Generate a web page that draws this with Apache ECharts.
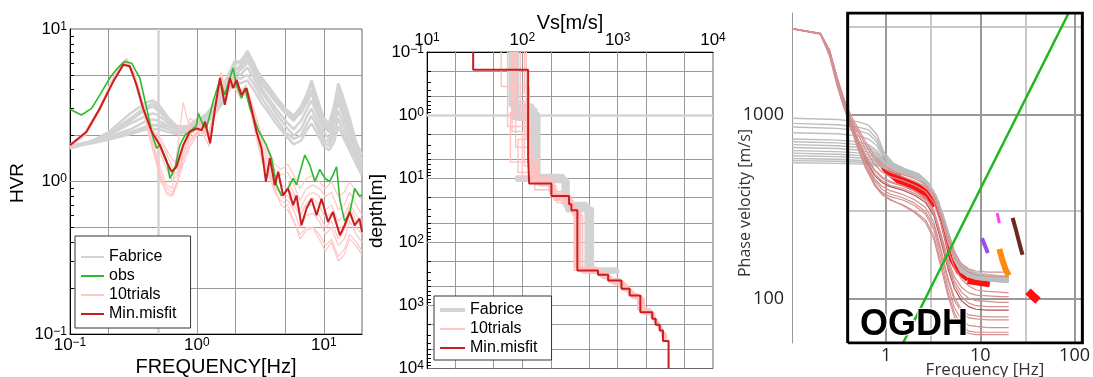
<!DOCTYPE html>
<html>
<head>
<meta charset="utf-8">
<script src="https://cdn.jsdelivr.net/npm/echarts@6/dist/echarts.min.js"></script>
<style>
html, body { margin: 0; padding: 0; background: #fff; }
#chart { width: 1093px; height: 377px; }
</style>
</head>
<body>
<div id="chart"></div>
<script>
// ---------- panel 1 : H/V ratio ----------
const hvrFreq = [0.1, 0.15, 0.2, 0.3, 0.4, 0.45, 0.5, 0.6, 0.7, 0.85, 1.0, 1.2, 1.4, 1.6, 1.8, 2.0, 2.2, 2.5,
    2.8, 3.2, 3.6, 4.2, 5.0, 5.8, 6.6, 7.4, 8.0, 8.8, 10, 11, 12, 13, 14, 16, 18, 20];
const fabriceHvr = [
    [1.65,1.85,2.1,2.8,3.3,3.4,3.2,2.6,2.3,2.3,2.4,2.7,3.2,3.9,4.8,5.8,6.2,6.8,5.5,4.4,3.9,3.3,2.8,2.5,2.9,3.6,4.4,3.4,2.4,2.2,2.8,3.8,3.2,2.3,1.6,1.3],
    [1.65,1.8,2.0,2.5,3.0,3.1,2.9,2.5,2.3,2.3,2.5,2.8,3.3,4.2,5.2,6.2,6.0,7.2,6.0,4.6,4.0,3.4,2.9,2.6,3.0,3.5,4.0,3.2,2.5,2.3,3.0,4.2,3.5,2.4,1.7,1.4],
    [1.7,1.85,2.0,2.4,2.7,2.8,2.7,2.4,2.2,2.2,2.4,2.7,3.1,3.8,4.6,5.5,5.5,6.2,5.2,4.1,3.6,3.0,2.5,2.2,2.5,3.0,3.4,2.8,2.1,1.9,2.4,3.3,2.8,2.0,1.5,1.25],
    [1.7,1.8,1.95,2.2,2.5,2.55,2.5,2.3,2.2,2.15,2.3,2.6,3.0,3.6,4.4,5.2,5.0,5.6,4.8,3.9,3.4,2.8,2.3,2.0,2.2,2.7,3.0,2.5,1.9,1.8,2.2,2.9,2.5,1.8,1.4,1.2],
    [1.7,1.8,1.9,2.1,2.3,2.35,2.3,2.2,2.1,2.1,2.25,2.5,2.9,3.4,4.2,4.9,4.7,5.0,4.4,3.6,3.1,2.6,2.1,1.9,2.0,2.4,2.7,2.3,1.8,1.7,2.0,2.6,2.2,1.7,1.35,1.15],
    [1.7,1.78,1.88,2.05,2.2,2.2,2.2,2.1,2.05,2.1,2.2,2.45,2.8,3.3,4.0,4.6,4.4,4.6,4.0,3.3,2.9,2.4,2.0,1.75,1.85,2.2,2.4,2.1,1.7,1.6,1.8,2.3,2.0,1.6,1.3,1.1],
    [1.72,1.8,1.9,2.1,2.3,2.35,2.35,2.3,2.2,2.25,2.4,2.7,3.0,3.5,4.3,5.0,5.4,6.0,5.6,4.8,4.3,3.6,3.0,2.7,3.1,3.8,4.6,3.6,2.6,2.4,3.1,4.4,3.7,2.6,1.8,1.5],
    [1.68,1.82,2.05,2.6,3.1,3.25,3.05,2.5,2.2,2.2,2.3,2.55,2.9,3.5,4.4,5.3,5.8,6.5,5.8,4.9,4.2,3.5,2.9,2.6,2.8,3.3,3.8,3.0,2.3,2.1,2.6,3.6,3.0,2.2,1.6,1.35]
];
const trialFreq = [0.1, 0.13, 0.17, 0.21, 0.25, 0.28, 0.32, 0.37, 0.42, 0.47, 0.52, 0.58, 0.64, 0.7, 0.78,
    0.88, 1.0, 1.1, 1.25, 1.4, 1.55, 1.7, 1.85, 2.0, 2.2, 2.45, 2.7, 3.0, 3.3, 3.7, 4.1, 4.6, 5.2, 5.8, 6.5,
    7.3, 8.2, 9.2, 10.3, 11.5, 13, 14.5, 16, 18, 20];
const trialHvr = [
    [1.72,2.0,2.9,4.4,5.9,6.4,5.0,3.1,2.0,1.4,1.0,0.85,0.82,1.0,1.5,1.9,2.1,2.2,1.9,3.2,4.9,3.5,4.5,4.5,3.6,3.9,2.8,1.9,1.4,1.2,0.95,0.8,0.75,0.65,0.5,0.6,0.62,0.55,0.45,0.5,0.38,0.42,0.55,0.45,0.4],
    [1.75,2.05,3.0,4.4,5.7,6.0,4.9,3.3,2.5,2.1,1.9,1.6,1.4,1.3,1.6,2.0,2.3,2.3,2.0,3.1,4.5,3.6,4.9,4.4,3.9,4.3,3.2,2.3,1.7,1.4,1.1,1.0,1.0,0.85,0.65,0.8,0.85,0.8,0.65,0.7,0.55,0.6,0.72,0.6,0.55],
    [1.7,2.0,2.85,4.2,5.6,6.2,5.2,3.4,2.2,1.6,1.2,0.95,0.9,1.6,3.3,2.2,2.0,2.3,2.1,3.3,5.0,3.8,4.6,4.8,4.0,4.0,2.9,2.0,1.5,1.1,0.85,0.75,0.7,0.55,0.45,0.5,0.5,0.45,0.38,0.42,0.32,0.36,0.45,0.4,0.35],
    [1.73,2.1,3.0,4.5,5.8,6.1,4.7,3.0,2.3,1.9,1.6,1.3,1.1,1.15,1.6,2.4,2.6,2.1,1.7,2.9,4.6,3.4,4.4,4.1,3.5,3.8,3.1,2.2,1.8,1.5,1.2,1.1,1.15,0.95,0.75,0.9,0.95,0.9,0.8,0.85,0.65,0.7,0.85,0.7,0.6],
    [1.7,2.0,2.95,4.3,5.6,5.9,5.0,3.2,2.1,1.5,1.1,0.9,0.85,1.0,1.3,1.7,2.0,2.1,2.0,3.4,5.2,3.9,5.0,4.6,3.7,3.7,2.7,1.8,1.3,1.1,0.9,0.85,0.8,0.7,0.6,0.7,0.7,0.6,0.5,0.55,0.42,0.48,0.6,0.5,0.45],
    [1.74,2.05,3.0,4.4,5.7,6.0,4.8,3.1,2.4,2.0,1.8,1.5,1.25,1.2,1.7,2.6,2.4,2.2,1.9,2.8,4.4,3.7,4.7,4.6,3.9,4.2,3.3,2.5,1.9,1.6,1.3,1.2,1.3,1.1,0.9,1.05,1.1,1.0,0.9,1.0,0.8,0.85,1.0,0.85,0.75],
    [1.72,2.0,2.9,4.3,5.8,6.3,5.1,3.2,2.0,1.45,1.05,0.82,0.8,0.95,1.4,1.8,2.1,2.25,2.0,3.0,4.8,3.5,4.8,4.4,3.6,4.0,3.0,2.0,1.5,1.2,0.9,0.7,0.65,0.55,0.42,0.48,0.5,0.42,0.35,0.4,0.3,0.33,0.42,0.38,0.33],
    [1.73,2.05,2.95,4.35,5.75,6.1,4.9,3.1,2.3,1.8,1.5,1.2,1.0,1.1,1.5,2.0,2.4,2.3,2.1,3.2,4.7,3.6,4.6,4.5,3.8,4.1,3.0,2.1,1.6,1.3,1.05,0.95,0.9,0.8,0.6,0.72,0.78,0.7,0.58,0.62,0.48,0.52,0.68,0.55,0.5]
];
const obsFreq = [0.1,0.123,0.148,0.172,0.206,0.235,0.271,0.306,0.355,0.402,0.453,0.481,0.511,0.577,0.613,
    0.671,0.735,0.804,0.908,0.994,1.025,1.12,1.19,1.34,1.52,1.66,1.82,1.93,2.05,2.25,2.39,2.62,3.04,3.53,
    3.87,4.24,4.63,5.14,5.73,6.09,7.08,7.77,8.5,9.3,10.2,11.1,11.8,12.6,13.4,14.6,16.0,17.5,19.2,20];
const obsHvr = [2.98,2.73,3.02,3.70,4.77,5.5,6.13,5.97,4.77,3.02,1.92,1.65,1.73,1.38,1.05,1.22,1.73,2.01,
    2.17,2.34,2.80,2.34,2.23,3.34,4.64,3.70,4.77,5.54,4.31,3.51,4.09,3.02,2.18,1.73,1.42,0.95,0.81,0.88,
    1.05,0.95,1.49,1.28,1.0,1.2,1.05,1.0,1.1,1.25,0.75,0.55,0.62,0.9,0.8,0.82];
const bestFreq = [0.1,0.135,0.172,0.219,0.263,0.296,0.334,0.377,0.44,0.511,0.577,0.632,0.69,0.78,0.88,
    0.994,1.09,1.16,1.27,1.39,1.52,1.66,1.82,1.93,2.05,2.25,2.46,2.69,2.95,3.23,3.5,3.76,4.11,4.37,4.78,
    5.23,5.73,6.09,6.67,7.31,8.0,8.76,9.6,10.8,11.8,13.4,14.6,16.0,17.5,19.1,20];
const bestHvr = [1.73,2.12,3.02,4.52,5.83,5.69,4.31,3.02,2.12,1.73,1.35,1.16,1.25,1.73,2.12,2.23,2.17,
    2.47,1.78,3.02,4.77,3.18,4.77,4.09,4.64,3.70,4.09,3.02,2.12,1.65,1.0,1.42,0.946,1.16,0.81,0.90,0.70,
    0.81,0.516,0.665,0.77,0.60,0.77,0.543,0.632,0.444,0.516,0.632,0.516,0.571,0.467];
const hvrGridF = [0.2, 1, 2, 5, 10];
const hvrGridH = [0.2, 0.5, 1, 2, 5];
const hvrMarkF = [0.5];
const hvrMinorH = [0.2, 0.3, 0.4, 0.5, 0.6, 0.7, 0.8, 0.9, 2, 3, 4, 5, 6, 7, 8, 9];

// ---------- panel 2 : Vs profiles (layer tops + final bottom, layer velocities) ----------
const fabriceDepth = [
    [0.1, 0.7, 9, 25, 270, 270],
    [0.1, 0.8, 10, 28, 280, 280],
    [0.1, 0.95, 11, 30, 290, 290],
    [0.1, 1.1, 10.5, 32, 300, 300],
    [0.1, 1.0, 9.5, 10.5, 28, 285, 285]
];
const fabriceVs = [
    [75, 128, 270, 470, 980],
    [82, 138, 285, 500, 1020],
    [88, 148, 300, 540, 1050],
    [80, 142, 295, 520, 1000],
    [85, 140, 87, 290, 510, 1000]
];
const trialDepth = [
    [0.1, 1.5, 9.5, 19, 30, 270, 330, 420, 560, 720, 1250, 1700, 2100, 2700, 3600],
    [0.1, 0.9, 5.5, 11, 17, 27, 250, 300, 380, 520, 680, 1200, 1550, 1900, 2400, 3300],
    [0.1, 2.4, 8, 13, 21, 35, 300, 360, 450, 600, 760, 1350, 1800, 2300, 2900, 3900],
    [0.1, 0.6, 6.3, 12.5, 20, 29, 265, 320, 400, 530, 700, 1220, 1600, 2000, 2500, 3500],
    [0.1, 0.35, 4, 10, 16, 24, 280, 340, 430, 580, 740, 1300, 1650, 2050, 2600, 3700],
    [0.1, 1.2, 7, 11.5, 22, 38, 310, 380, 470, 620, 800, 1400, 1850, 2200, 2800, 3800],
    [0.1, 1.8, 10, 15, 24, 33, 290, 350, 440, 600, 780, 1330, 1700, 2150, 2750, 3400],
    [0.1, 0.45, 3.2, 12, 18, 26, 255, 310, 390, 500, 660, 1150, 1500, 1850, 2300, 3200]
];
const trialVs = [
    [70, 125, 215, 320, 400, 640, 820, 1150, 1400, 1800, 2350, 2600, 2850, 3100],
    [95, 75, 140, 195, 300, 360, 590, 760, 1050, 1300, 1650, 2250, 2450, 2700, 2950],
    [110, 90, 150, 225, 330, 410, 660, 860, 1200, 1450, 1850, 2400, 2700, 2950, 3250],
    [82, 105, 135, 205, 315, 370, 610, 780, 1080, 1320, 1700, 2280, 2480, 2750, 3000],
    [60, 118, 145, 190, 295, 350, 630, 800, 1120, 1380, 1760, 2330, 2550, 2800, 3050],
    [88, 120, 145, 215, 340, 430, 700, 900, 1250, 1500, 1900, 2450, 2650, 2900, 3200],
    [78, 100, 135, 230, 345, 395, 650, 840, 1180, 1420, 1800, 2380, 2600, 2870, 3150],
    [105, 85, 128, 200, 305, 355, 600, 770, 1060, 1290, 1620, 2200, 2420, 2680, 2920]
];
const bestDepth = [0.1, 0.19, 4.7, 12, 18.8, 25.5, 31.6, 284, 331, 407, 550, 705, 1290, 1630, 2040, 2500, 3670, 10000];
const bestVs = [30.5, 115, 118, 202, 309, 327, 378, 622, 795, 1096, 1337, 1730, 2307, 2500, 2760, 2985, 3420];
const vsGridX = [20, 50, 100, 200, 500, 1000, 2000, 5000];
const depthGridY = [0.2, 0.5, 2, 5, 10, 20, 50, 100, 200, 500, 1000, 2000, 5000];
const depthMarkY = [1];
const depthMinorY = [0.2, 0.3, 0.4, 0.5, 0.6, 0.7, 0.8, 0.9, 2, 3, 4, 5, 6, 7, 8, 9, 20, 30, 40, 50, 60, 70, 80, 90,
    200, 300, 400, 500, 600, 700, 800, 900, 2000, 3000, 4000, 5000, 6000, 7000, 8000, 9000];

// ---------- panel 3 : dispersion ----------
const dispFreq = [0.1, 0.3, 0.5, 0.65, 0.8, 0.95, 1.2, 1.6, 2.2, 2.8, 3.4, 4.0, 4.6, 5.3, 6.2, 7.5, 9, 12, 16, 20];
const fabriceDisp = [
    [960,945,920,880,780,625,545,510,480,430,365,290,230,182,155,145,139,136,134,133],
    [900,885,860,830,740,605,540,506,477,427,362,287,227,180,154,144,138,135,133,132],
    [860,845,825,790,710,595,535,502,474,424,359,284,224,178,152,143,137,134,132,131],
    [800,790,770,740,680,580,530,498,471,421,356,281,221,176,151,142,136,133,131,130],
    [740,730,715,690,640,565,525,494,468,418,353,278,218,174,150,141,135,132,130,129],
    [715,705,690,670,620,560,520,490,465,415,350,275,215,172,148,140,134,131,129,128],
    [690,680,668,650,605,555,515,487,462,413,348,273,213,170,147,139,133,130,128,127],
    [665,657,645,628,590,550,511,484,460,411,346,271,211,169,146,138,132,129,127,126],
    [640,632,622,608,578,545,507,481,458,409,344,269,209,168,145,137,131,128,126,126],
    [620,612,603,590,565,538,503,478,456,407,342,267,207,167,144,136,130,128,126,125],
    [600,594,586,575,555,532,500,476,454,405,340,265,205,166,143,135,130,127,125,125],
    [580,575,568,560,545,526,497,474,452,403,338,263,203,165,142,134,129,127,125,124],
    [565,560,555,548,538,522,494,472,450,401,336,261,201,164,141,133,129,126,124,124],
    [550,546,542,538,530,518,491,470,448,399,334,259,199,163,140,132,128,126,124,123]
];
const trialDispFreq = [0.1, 0.2, 0.25, 0.3, 0.35, 0.42, 0.5, 0.6, 0.75, 0.9, 1.1, 1.5, 2.0, 2.6, 3.2, 3.8,
    4.5, 5.3, 6.3, 7.5, 9, 12, 16, 20];
const trialDisp = [
    [2950,2780,2250,1600,1250,1000,850,720,600,540,505,475,450,420,370,295,225,178,156,146,142,140,140,140],
    [2940,2760,2150,1500,1180,960,820,690,575,520,490,462,438,408,355,280,210,168,150,140,135,133,133,132],
    [2950,2770,2200,1550,1200,950,790,650,540,490,462,440,415,385,335,258,188,148,128,118,112,110,109,108],
    [2935,2750,2100,1450,1120,880,730,600,500,455,430,410,385,355,302,228,166,132,116,108,105,104,103,103],
    [2950,2775,2180,1520,1160,900,740,610,505,462,436,414,388,358,305,225,160,125,109,101,98,97,96,96],
    [2940,2765,2230,1580,1220,920,720,575,470,430,408,390,366,336,285,208,148,114,98,91,88,87,87,87],
    [2950,2780,2260,1620,1260,950,730,560,450,410,388,370,346,315,262,188,132,102,88,82,81,80,80,80],
    [2935,2755,2120,1470,1140,850,660,520,420,380,360,345,322,290,240,170,118,90,77,72,71,70,70,70],
    [2950,2770,2170,1510,1170,870,670,520,415,370,345,325,300,270,222,158,110,84,72,67,66,66,66,66],
    [2945,2765,2210,1560,1210,900,690,535,425,375,348,322,295,262,212,150,105,80,69,65,64,64,64,64],
    [2950,2760,2140,1490,1150,860,680,540,440,395,372,355,332,300,250,182,128,98,85,79,78,77,77,77],
    [2945,2775,2240,1600,1240,930,740,590,480,440,415,398,375,345,295,218,155,120,103,95,92,91,91,91]
];
const pickBandF = [0.86, 1.0, 1.4, 2.16, 3.0, 3.4];
const pickBandV = [590, 515, 443, 400, 354, 324];
const pickTailF = [3.4, 3.8, 4.3, 4.9, 5.8, 7.3];
const pickTailV = [324, 280, 215, 163, 140, 127];
const pickBlobF = [7.3, 9, 11, 12.6];
const pickBlobV = [126, 124, 122, 121];
const pickHighF = [32, 36, 41];
const pickHighV = [110, 104, 98];
const purpleF = [10.4, 11.2, 12];
const purpleV = [214, 195, 178];
const magentaF = [15.1, 15.5, 15.9];
const magentaV = [293, 275, 258];
const orangeF = [15.9, 17, 18.5, 20];
const orangeV = [187, 165, 145, 134];
const brownF = [22, 24, 26, 28];
const brownV = [276, 235, 200, 174];
const lambdaF = [1.51, 86.5];
const lambdaV = [57.7, 3580];
const boxF = [0.39, 121];
const boxV = [57.7, 3580];
const dispDarkF = [1, 10, 100];
const dispLightF = [3, 30];
const dispDarkV = [100, 1000];
const dispLightV = [300, 3000];

// ---------- helpers ----------
const SANS = 'Liberation Sans';
const THIN = 'Open Sans';

function pairs(xs, ys) { return xs.map((x, i) => [x, ys[i]]); }

function staircase(depths, vs) {
    const pts = [];
    vs.forEach((v, i) => { pts.push([v, depths[i]]); pts.push([v, depths[i + 1]]); });
    return pts;
}

function curve(idx, name, data, color, width) {
    return {
        type: 'line', name: name, xAxisIndex: idx, yAxisIndex: idx, data: data,
        symbol: 'none', silent: true, z: 2,
        lineStyle: { color: color, width: width }, itemStyle: { color: color }
    };
}

function gridLines(idx, xs, ys, xr, yr, color, width) {
    const data = [];
    xs.forEach(x => data.push({ coords: [[x, yr[0]], [x, yr[1]]] }));
    ys.forEach(y => data.push({ coords: [[xr[0], y], [xr[1], y]] }));
    return {
        type: 'lines', coordinateSystem: 'cartesian2d', xAxisIndex: idx, yAxisIndex: idx,
        silent: true, z: 1, lineStyle: { color: color, width: width, opacity: 1 }, data: data
    };
}

function pow10Label(v) {
    const e = Math.log10(v);
    const r = Math.round(e);
    if (Math.abs(e - r) > 1e-6) return '';
    return '{b|10}{s|' + (r < 0 ? '\u2212' + (-r) : r) + '}';
}

function plainLabel(keep) {
    return v => {
        const hit = keep.find(k => Math.abs(k - v) / k < 1e-6);
        return hit ? String(hit) : '';
    };
}

const powRich = {
    b: { fontSize: 17, fontFamily: SANS, color: '#000' },
    s: { fontSize: 12, fontFamily: SANS, color: '#000', verticalAlign: 'top' }
};

function powAxis(extra) {
    return Object.assign({
        type: 'log', logBase: 10,
        axisLine: { show: true, lineStyle: { color: '#000', width: 1 } },
        axisTick: { show: false },
        splitLine: { show: false },
        axisLabel: { formatter: pow10Label, rich: powRich, margin: 3 }
    }, extra);
}

// ---------- series ----------
const series = [];

series.push(gridLines(0, hvrGridF, hvrGridH, [0.1, 20], [0.1, 10], '#999', 1));
series.push(gridLines(0, hvrMarkF, [], [0.1, 20], [0.1, 10], '#d4d4d4', 2.5));
series.push(gridLines(0, [], hvrMinorH, [0.1, 0.1075], [0.1, 10], '#000', 1));
fabriceHvr.forEach(h => series.push(curve(0, 'Fabrice', pairs(hvrFreq, h), '#d3d3d3', 2.5)));
trialHvr.forEach(h => series.push(curve(0, '10trials', pairs(trialFreq, h), '#ffc6c6', 1.2)));
series.push(curve(0, 'obs', pairs(obsFreq, obsHvr), '#2cbb2c', 1.6));
series.push(curve(0, 'Min.misfit', pairs(bestFreq, bestHvr), '#c81e1e', 2));

series.push(gridLines(1, vsGridX, depthGridY, [10, 10000], [0.1, 10000], '#999', 1));
series.push(gridLines(1, [], depthMarkY, [10, 10000], [0.1, 10000], '#d4d4d4', 2.5));
series.push(gridLines(1, [], depthMinorY, [10, 11], [0.1, 10000], '#000', 1));
fabriceDepth.forEach((d, i) => series.push(curve(1, 'Fabrice', staircase(d, fabriceVs[i]), '#d3d3d3', 4)));
trialDepth.forEach((d, i) => series.push(curve(1, '10trials', staircase(d, trialVs[i]), '#ffc0c0', 1.4)));
series.push(curve(1, 'Min.misfit', staircase(bestDepth, bestVs), '#c81e1e', 2));

series.push(gridLines(2, dispLightF, dispLightV, boxF, boxV, '#c8c8c8', 2));
series.push(gridLines(2, dispDarkF, dispDarkV, boxF, boxV, '#999', 2));
series.push(curve(2, 'pick band', pairs(pickBandF, pickBandV), '#ff1010', 9));
series.push(curve(2, 'pick tail', pairs(pickTailF, pickTailV), '#ff1010', 4));
series.push(curve(2, 'pick blob', pairs(pickBlobF, pickBlobV), '#ff1010', 7));
fabriceDisp.forEach(v => series.push(curve(2, 'fabrice disp', pairs(dispFreq, v), '#bdbdbd', 1.4)));
trialDisp.forEach((v, i) => series.push(curve(2, 'trial disp', pairs(trialDispFreq, v), i === 5 ? '#b25252' : '#d49090', 1.2)));
series.push(curve(2, 'pick high', pairs(pickHighF, pickHighV), '#ff1010', 8));
series.push(curve(2, 'purple', pairs(purpleF, purpleV), '#9a4cf0', 4));
series.push(curve(2, 'magenta', pairs(magentaF, magentaV), '#ff40ff', 3));
series.push(curve(2, 'orange', pairs(orangeF, orangeV), '#ff8a10', 6));
series.push(curve(2, 'brown', pairs(brownF, brownV), '#6a2a1c', 4));
series.push(curve(2, 'lambda', pairs(lambdaF, lambdaV), '#1db81d', 2.5));
series.push({
    type: 'lines', coordinateSystem: 'cartesian2d', xAxisIndex: 2, yAxisIndex: 2, polyline: true,
    silent: true, z: 3, lineStyle: { color: '#000', width: 3, opacity: 1 },
    data: [{ coords: [[boxF[0], boxV[0]], [boxF[1], boxV[0]], [boxF[1], boxV[1]], [boxF[0], boxV[1]], [boxF[0], boxV[0]]] }]
});

// legend icons: keep the line, hide the marker
const legendBase = {
    orient: 'vertical', selectedMode: false, z: 10,
    backgroundColor: '#fff', borderColor: '#333', borderWidth: 1, borderRadius: 0,
    itemHeight: 14, itemGap: 1,
    itemStyle: { opacity: 0 },
    textStyle: { fontFamily: SANS, fontSize: 16, color: '#000', lineHeight: 18 }
};

const option = {
    animation: false,
    backgroundColor: '#fff',
    grid: [
        { left: 70, top: 29, width: 292, height: 305, show: true, borderColor: '#666', borderWidth: 1 },
        { left: 427, top: 52, width: 286, height: 318, show: true, borderColor: '#666', borderWidth: 1 },
        { left: 792, top: 13, width: 295, height: 330 }
    ],
    xAxis: [
        powAxis({ gridIndex: 0, min: 0.1, max: 20 }),
        powAxis({ gridIndex: 1, min: 10, max: 10000, position: 'top' }),
        {
            type: 'log', gridIndex: 2, min: 0.1, max: 121,
            axisLine: { show: false }, axisTick: { show: false }, splitLine: { show: false },
            axisLabel: { formatter: plainLabel([1, 10, 100]), fontFamily: THIN, fontSize: 18, color: '#222', margin: 4 }
        }
    ],
    yAxis: [
        powAxis({ gridIndex: 0, min: 0.1, max: 10 }),
        powAxis({ gridIndex: 1, min: 0.1, max: 10000, inverse: true }),
        {
            type: 'log', gridIndex: 2, min: 57.7, max: 3580,
            axisLine: { show: true, lineStyle: { color: '#999', width: 1 } },
            axisTick: { show: false }, splitLine: { show: false },
            axisLabel: { formatter: plainLabel([100, 1000]), fontFamily: THIN, fontSize: 18, color: '#222', margin: 8 }
        }
    ],
    legend: [
        Object.assign({}, legendBase, {
            left: 75, top: 236, itemWidth: 23, padding: [12, 14, 5, 5],
            data: ['Fabrice', 'obs', '10trials', 'Min.misfit']
        }),
        Object.assign({}, legendBase, {
            left: 434, top: 296, itemWidth: 25, padding: [5, 14, 3, 4],
            data: [{ name: 'Fabrice', lineStyle: { width: 4 } }, '10trials', 'Min.misfit']
        })
    ],
    graphic: [
        { type: 'text', x: 18, y: 183, rotation: Math.PI / 2, z: 20,
          style: { text: 'HVR', fontFamily: SANS, fontSize: 19, fill: '#000', align: 'center', verticalAlign: 'middle' } },
        { type: 'text', x: 216, y: 367, z: 20,
          style: { text: 'FREQUENCY[Hz]', fontFamily: SANS, fontSize: 20, fill: '#000', align: 'center', verticalAlign: 'middle' } },
        { type: 'text', x: 570, y: 23, z: 20,
          style: { text: 'Vs[m/s]', fontFamily: SANS, fontSize: 20, fill: '#000', align: 'center', verticalAlign: 'middle' } },
        { type: 'text', x: 377, y: 211, rotation: Math.PI / 2, z: 20,
          style: { text: 'depth[m]', fontFamily: SANS, fontSize: 19, fill: '#000', align: 'center', verticalAlign: 'middle' } },
        { type: 'text', x: 745, y: 203, rotation: Math.PI / 2, z: 20,
          style: { text: 'Phase velocity [m/s]', fontFamily: THIN, fontSize: 16, fill: '#333', align: 'center', verticalAlign: 'middle' } },
        { type: 'text', x: 985, y: 370, z: 20,
          style: { text: 'Frequency [Hz]', fontFamily: THIN, fontSize: 17, fill: '#333', align: 'center', verticalAlign: 'middle' } },
        { type: 'text', x: 860, y: 325, z: 20,
          style: { text: 'OGDH', fontFamily: SANS, fontSize: 36, fontWeight: 'bold', fill: '#000',
                   stroke: '#fff', lineWidth: 2, align: 'left', verticalAlign: 'middle' } }
    ],
    series: series
};

const chart = echarts.init(document.getElementById('chart'));
chart.setOption(option);
</script>
</body>
</html>
